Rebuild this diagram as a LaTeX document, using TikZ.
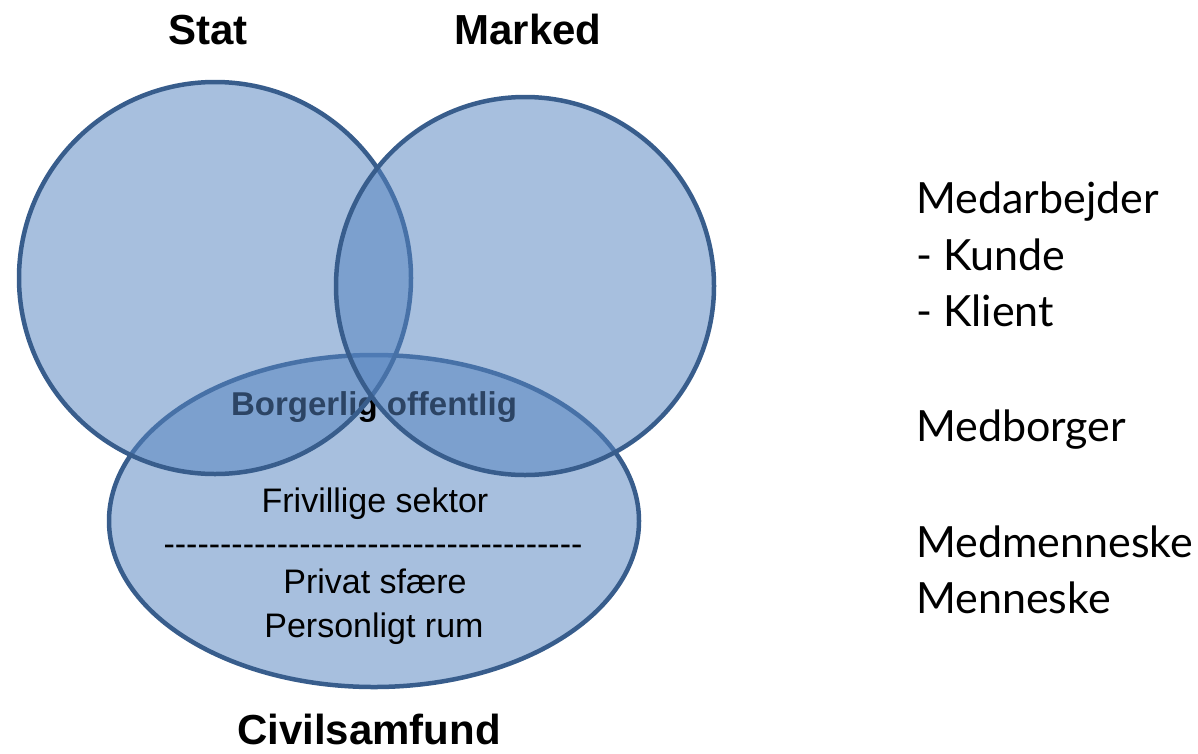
\documentclass[tikz,border=0pt]{standalone}
\usepackage{fontspec}
\setmainfont{Liberation Sans}
\newfontfamily\gill{Lato}
\definecolor{vfill}{RGB}{86,132,192}
\definecolor{vline}{RGB}{56,93,140}
\newcommand{\hyrow}{-{}-{}-{}-{}-{}-{}-{}-{}-{}-{}-{}-{}-{}-{}-{}-{}-{}-{}-{}-{}-{}-{}-{}-{}-{}-{}-{}-{}-{}-{}-{}-{}-{}-{}-{}-{}-{}}
\begin{document}
\begin{tikzpicture}[x=1pt,y=-1pt,
  setfill/.style={fill=vfill, fill opacity=0.52, draw=vline, line width=4.5pt},
  head/.style={font=\bfseries\fontsize{42}{48}\selectfont, anchor=base, inner sep=0pt},
  inner/.style={font=\fontsize{34}{40}\selectfont, anchor=base, inner sep=0pt},
  side/.style={font=\gill\fontsize{43}{50}\selectfont, anchor=base west, inner sep=0pt}]
\useasboundingbox (0,0) rectangle (1198,753);
\path[setfill] (374,521) ellipse [x radius=265, y radius=166];
\node[font=\bfseries\fontsize{33}{40}\selectfont, anchor=base, inner sep=0pt] (bo) at (374,415) {Borgerlig offentlig};
\path[setfill] (215,278) circle [radius=196];
\path[setfill] (525,286) circle [radius=189];
\node[head] (stat) at (208,44) {Stat};
\node[head] (marked) at (528,44) {Marked};
\node[head] (civil) at (369,744) {Civilsamfund};
\node[inner] (friv) at (375,512) {Frivillige sektor};
\node[inner] (dash) at (373,555) {\hyrow};
\node[inner] (priv) at (375,593) {Privat sfære};
\node[inner] (pers) at (374,637) {Personligt rum};
\node[side] (m1) at (916,213) {Medarbejder};
\node[side] (m2) at (916,270) {- Kunde};
\node[side] (m3) at (916,326) {- Klient};
\node[side] (m4) at (916,441) {Medborger};
\node[side] (m5) at (916,557) {Medmenneske};
\node[side] (m6) at (916,613) {Menneske};
\end{tikzpicture}
\end{document}
